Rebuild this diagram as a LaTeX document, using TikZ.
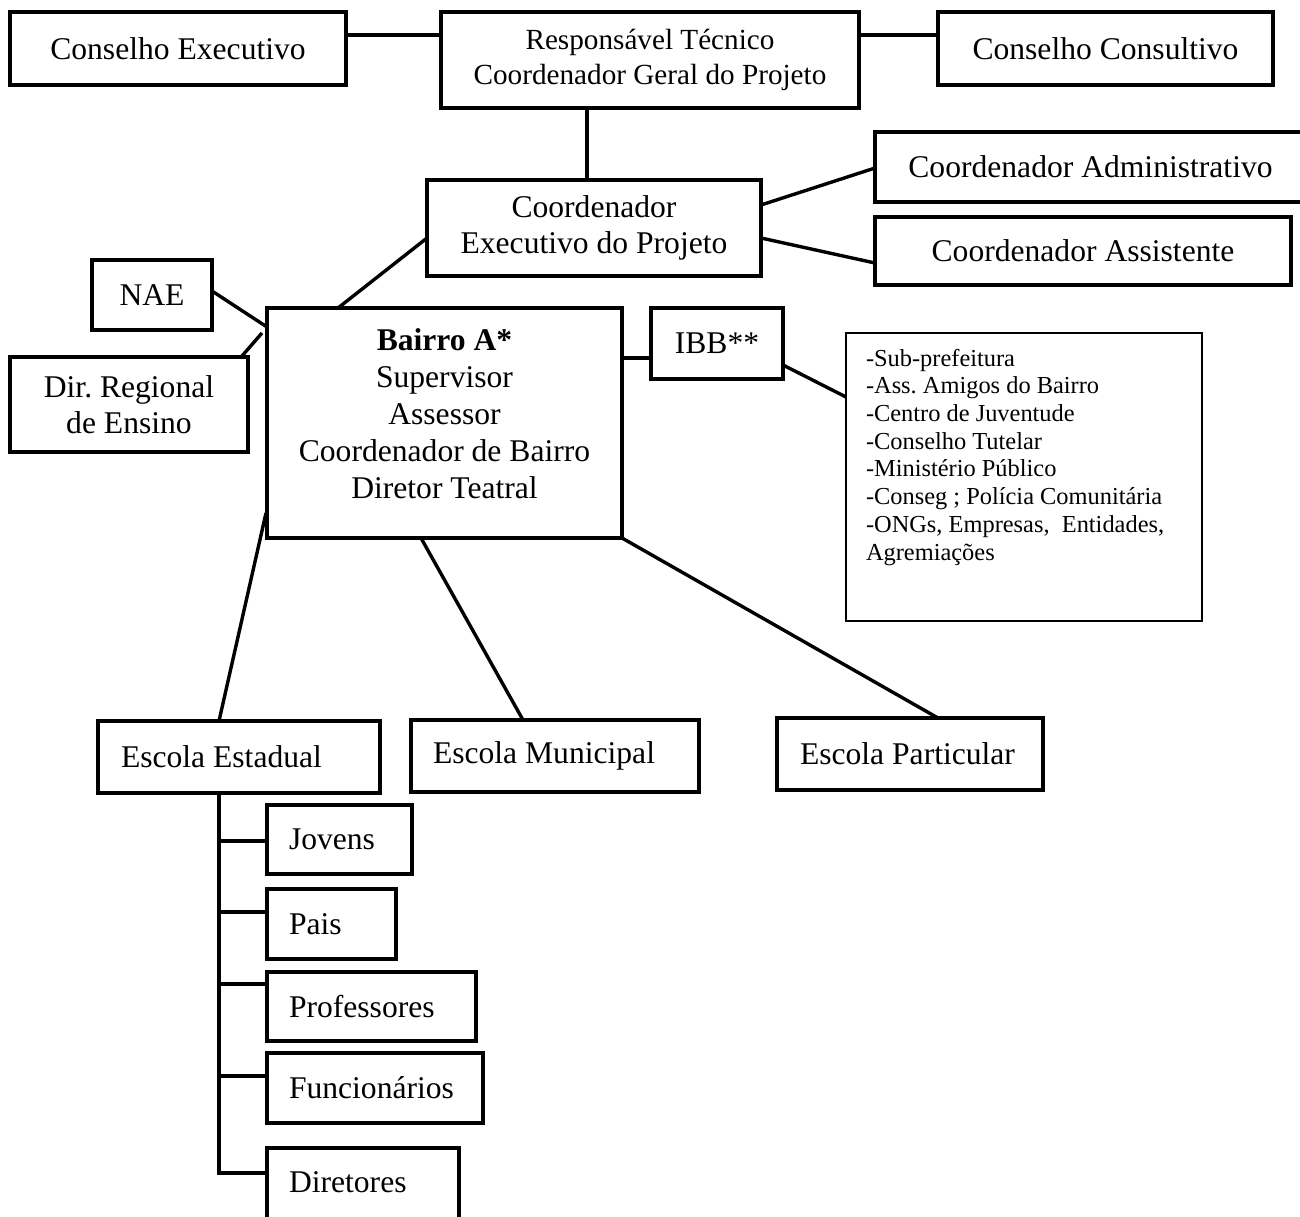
\documentclass[tikz,border=0pt]{standalone}
\usepackage{fontspec}
\setmainfont{Liberation Serif}
\frenchspacing
\newcommand\bigf{\fontsize{15.8}{18.2}\selectfont}
\newcommand\resf{\fontsize{14.6}{17.5}\selectfont}
\newcommand\listf{\fontsize{12.2}{13.85}\selectfont}
\newcommand\myleft[2]{\makebox[#1][l]{#2}}
\begin{document}
\begin{tikzpicture}[x=0.5pt,y=-0.5pt,
  box/.style={draw, line width=1.7pt, inner sep=0pt, outer sep=0pt, anchor=north west, font=\bigf, align=center},
  lbox/.style={box, inner xsep=11pt},
  listbox/.style={draw, line width=0.9pt, inner sep=0pt, inner xsep=10pt, outer sep=0pt, anchor=north west},
  conn/.style={line width=1.7pt}
]
\fill[white] (0,0) rectangle (1300,1216);
\useasboundingbox (0,0) rectangle (1300,1216);

% top level
\node[box, minimum width=168pt, minimum height=36.5pt] (CE) at (10,12) {Conselho Executivo};
\node[box, font=\resf, minimum width=209pt, minimum height=48pt] (RT) at (441,12) {Responsável Técnico\\Coordenador Geral do Projeto};
\node[box, minimum width=167.5pt, minimum height=36.5pt] (CC) at (938,12) {Conselho Consultivo};

% second level
\node[box, minimum width=167pt, minimum height=48pt] (CX) at (427,180) {Coordenador\\Executivo do Projeto};
\node[box, minimum width=215.5pt, minimum height=35pt] (CA) at (875,132) {Coordenador Administrativo};
\node[box, minimum width=208pt, minimum height=34pt] (CS) at (875,217) {Coordenador Assistente};

% side boxes
\node[box, minimum width=60pt, minimum height=35pt] (NAE) at (92,260) {NAE};
\node[box, minimum width=119pt, minimum height=47.5pt] (DRE) at (10,357) {Dir. Regional\\de Ensino};

% Bairro
\node[box, minimum width=177.5pt, minimum height=115pt] (B) at (267,308)
  {\parbox[t][94.2pt][t]{170pt}{\fontsize{15.8}{18.5}\selectfont\centering
   \textbf{Bairro A*}\\Supervisor\\Assessor\\Coordenador de Bairro\\Diretor Teatral}};

\node[box, minimum width=66pt, minimum height=35.5pt] (IBB) at (651,308) {IBB**};

\node[listbox, minimum width=178pt, minimum height=144pt] (L) at (846,333)
  {\parbox[t][128pt][t]{158pt}{\listf\raggedright
   -Sub-prefeitura\\
   -Ass. Amigos do Bairro\\
   -Centro de Juventude\\
   -Conselho Tutelar\\
   -Ministério Público\\
   -Conseg ; Polícia Comunitária\\
   -ONGs, Empresas, \ Entidades,\\
   Agremiações}};

% schools
\node[box, inner xsep=11.5pt, minimum width=141pt, minimum height=36pt] (EE) at (98,721) {\myleft{118pt}{Escola Estadual}};
\node[lbox, minimum width=144pt, minimum height=36pt] (EM) at (411,720) {\myleft{122pt}{Escola Municipal}};
\node[box, inner xsep=11.5pt, minimum width=133pt, minimum height=36pt] (EP) at (777,718) {\myleft{110pt}{Escola Particular}};

% members
\node[lbox, minimum width=72.5pt, minimum height=34.5pt] (J) at (267,805) {\myleft{50.5pt}{Jovens}};
\node[lbox, minimum width=64.5pt, minimum height=35pt] (P) at (267,889) {\myleft{42.5pt}{Pais}};
\node[lbox, minimum width=104.5pt, minimum height=34.5pt] (PR) at (267,972) {\myleft{82.5pt}{Professores}};
\node[lbox, minimum width=108pt, minimum height=35pt] (F) at (267,1053) {\myleft{86pt}{Funcionários}};
\node[lbox, text height=22.2pt, text depth=30pt] (D) at (267,1148) {\myleft{74pt}{Diretores}};

% connectors
\draw[conn] ([shift={(0,23)}]CE.north east) -- ([shift={(0,23)}]RT.north west);
\draw[conn] ([shift={(0,23)}]RT.north east) -- ([shift={(0,23)}]CC.north west);
\draw[conn] ([shift={(146,0)}]RT.south west) -- ([shift={(160,0)}]CX.north west);
\draw[conn] ([shift={(0,25)}]CX.north east) -- ([shift={(0,36)}]CA.north west);
\draw[conn] ([shift={(0,58)}]CX.north east) -- ([shift={(0,46)}]CS.north west);
\draw[conn] ([shift={(0,58)}]CX.north west) -- ([shift={(71,0)}]B.north west);
\draw[conn] ([shift={(0,31)}]NAE.north east) -- ([shift={(0,19)}]B.north west);
\draw[conn] ([shift={(-6,-1)}]DRE.north east) -- ([shift={(-5,25)}]B.north west);
\draw[conn] ([shift={(0,50)}]B.north east) -- ([shift={(0,50)}]IBB.north west);
\draw[conn] ([shift={(0,57)}]IBB.north east) -- ([shift={(0,64)}]L.north west);
\draw[conn] ([shift={(-1,-25)}]B.south west) -- ([shift={(121,0)}]EE.north west);
\draw[conn] ([shift={(154,0)}]B.south west) -- ([shift={(112,0)}]EM.north west);
\draw[conn] (B.south east) -- ([shift={(161,0)}]EP.north west);

% trunk from Escola Estadual
\coordinate (tr) at ([shift={(121,0)}]EE.south west);
\coordinate (jb) at ([shift={(0,36)}]J.north west);
\coordinate (pb) at ([shift={(0,23)}]P.north west);
\coordinate (prb) at ([shift={(0,12)}]PR.north west);
\coordinate (fb) at ([shift={(0,23)}]F.north west);
\coordinate (db) at ([shift={(0,25)}]D.north west);
\draw[conn] (tr) |- (db);
\draw[conn] (jb) -- (tr |- jb);
\draw[conn] (pb) -- (tr |- pb);
\draw[conn] (prb) -- (tr |- prb);
\draw[conn] (fb) -- (tr |- fb);
\end{tikzpicture}
\end{document}
